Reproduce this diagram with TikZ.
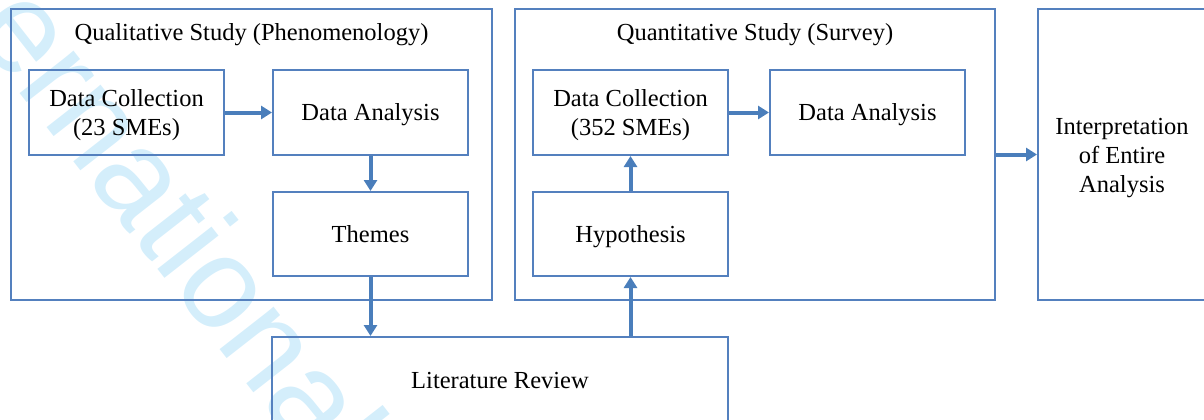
\documentclass[tikz,border=0pt]{standalone}
\usepackage{fontspec}
\setmainfont{Liberation Serif}
\newfontfamily\wmfont{Liberation Sans}
\usetikzlibrary{arrows.meta}
\definecolor{boxblue}{RGB}{84,128,190}
\definecolor{arrblue}{RGB}{74,126,187}
\definecolor{wmblue}{RGB}{212,238,251}
\begin{document}
\begin{tikzpicture}[x=1pt,y=-1pt,
  txt/.style={font=\fontsize{24.5}{29}\selectfont,align=center},
  one/.style={text height=22pt,text depth=5.5pt},
  two/.style={text height=51pt,text depth=5.5pt},
  three/.style={text height=80pt,text depth=5.5pt},
  box/.style={draw=boxblue,line width=2pt,inner sep=0pt,txt},
  arr/.style={draw=arrblue,line width=4pt,-{Triangle[length=11pt,width=13pt]}},
  lbl/.style={inner sep=0pt,txt}]
\useasboundingbox (0,0) rectangle (1204,420);
\clip (0,0) rectangle (1204,420);
% watermark
\node[rotate=-52, anchor=base west, text=wmblue, inner sep=0pt,
      font=\wmfont\fontsize{130}{130}\selectfont] (wm) at (-30,29) {ernational};
% qualitative study
\node[box, minimum width=481pt, minimum height=291pt] (qual) at (251.5,154.5) {};
\node[lbl, one] (qualt) at (251.5,32.5) {Qualitative Study (Phenomenology)};
\node[box, two, minimum width=195pt, minimum height=85pt] (dc1) at (126.5,112.5) {Data Collection\\(23 SMEs)};
\node[box, one, minimum width=195pt, minimum height=85pt] (da1) at (370.5,112.5) {Data Analysis};
\node[box, one, minimum width=195pt, minimum height=84pt] (themes) at (370.5,234) {Themes};
% quantitative study
\node[box, minimum width=480pt, minimum height=291pt] (quant) at (755,154.5) {};
\node[lbl, one] (quantt) at (755,32) {Quantitative Study (Survey)};
\node[box, two, minimum width=195pt, minimum height=85pt] (dc2) at (630.5,112.5) {Data Collection\\(352 SMEs)};
\node[box, one, minimum width=195pt, minimum height=85pt] (da2) at (867.5,112.5) {Data Analysis};
\node[box, one, minimum width=195pt, minimum height=84pt] (hyp) at (630.5,234) {Hypothesis};
% literature review
\node[box, one, minimum width=456pt, minimum height=86pt] (lit) at (500,380) {Literature Review};
% interpretation
\node[box, minimum width=180pt, minimum height=291pt] (interp) at (1128,154.5) {};
\node[lbl, three] (interpt) at (1122,155) {Interpretation\\of Entire\\Analysis};
% connectors
\draw[arr] (dc1.east) -- (da1.west);
\draw[arr] (da1.south) -- (themes.north);
\draw[arr] (themes.south) -- (themes.south |- lit.north);
\draw[arr] (hyp.south |- lit.north) -- (hyp.south);
\draw[arr] (hyp.north) -- (dc2.south);
\draw[arr] (dc2.east) -- (da2.west);
\draw[arr] (quant.east) -- (interp.west);
\end{tikzpicture}
\end{document}
